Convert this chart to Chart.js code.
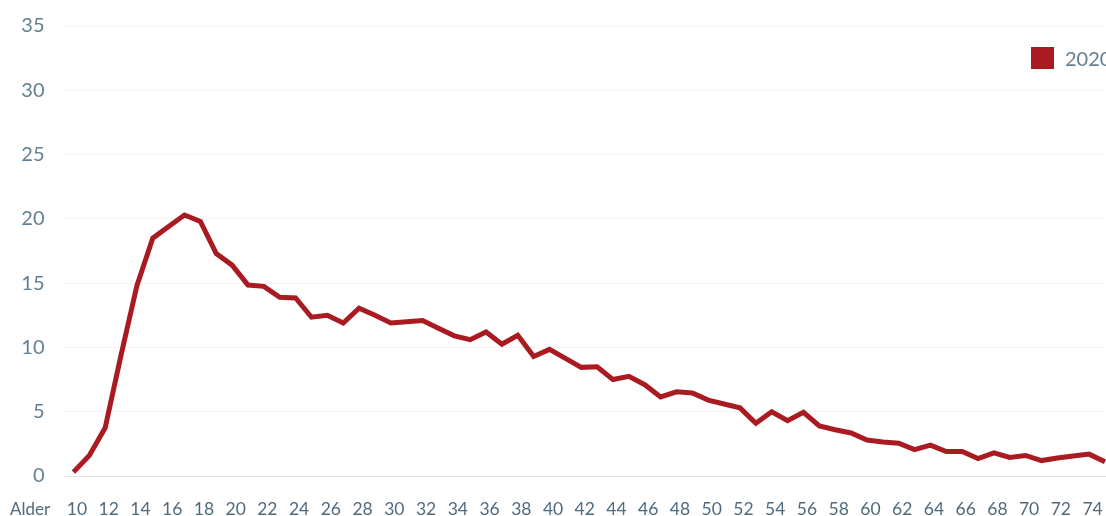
<!DOCTYPE html>
<html>
<head>
<meta charset="utf-8">
<script src="https://cdn.jsdelivr.net/npm/chart.js@4.4.1/dist/chart.umd.min.js"></script>
<style>
  html, body { margin: 0; padding: 0; background: #fff; overflow: hidden; }
  #wrap { position: absolute; left: 0; top: -7px; width: 1128px; height: 523px; }
  .lbl { position: absolute; font-family: Lato, sans-serif; color: #4f6b7e; white-space: nowrap; }
  #alder { left: 10px; top: 498px; font-size: 17px; line-height: 22px; }
  #legend { left: 1031px; top: 47px; font-size: 20px; line-height: 22px; color: #647f91; }
  #legend span.box { display: inline-block; width: 23px; height: 22px; background: #a91b21; vertical-align: top; margin-right: 11px; }
</style>
</head>
<body>
<div id="wrap"><canvas id="chart"></canvas></div>
<div class="lbl" id="alder">Alder</div>
<div class="lbl" id="legend"><span class="box"></span>2020</div>
<script>
const seriesName = '2020';
const ages = [];
for (let a = 10; a <= 75; a++) ages.push(a);

const values = [
  0.3, 1.6, 3.75, 9.4, 14.8, 18.5, 19.4, 20.3, 19.8, 17.3,     // 10-19
  16.4, 14.85, 14.75, 13.9, 13.85, 12.35, 12.5, 11.9, 13.05, 12.5, // 20-29
  11.9, 12.0, 12.1, 11.5, 10.9, 10.6, 11.2, 10.25, 10.95, 9.3,   // 30-39
  9.85, 9.15, 8.45, 8.5, 7.5, 7.75, 7.1, 6.15, 6.55, 6.45,       // 40-49
  5.9, 5.6, 5.3, 4.1, 5.0, 4.3, 4.95, 3.9, 3.6, 3.35,            // 50-59
  2.8, 2.65, 2.55, 2.05, 2.4, 1.9, 1.9, 1.35, 1.8, 1.45,         // 60-69
  1.6, 1.2, 1.4, 1.55, 1.7, 1.1                                  // 70-75
];

const yTicks = [0, 5, 10, 15, 20, 25, 30, 35];

const xColor = '#4f6b7e';
const yColor = '#647f91';

const ctx = document.getElementById('chart').getContext('2d');
const chart = new Chart(ctx, {
  type: 'line',
  data: {
    labels: ages,
    datasets: [{
      label: seriesName,
      data: values,
      borderColor: '#a91b21',
      backgroundColor: '#a91b21',
      borderWidth: 5,
      pointRadius: 0,
      tension: 0,
      fill: false
    }]
  },
  options: {
    responsive: true,
    maintainAspectRatio: false,
    devicePixelRatio: 1,
    animation: false,
    layout: { padding: { top: 16, right: 4, left: 0, bottom: 0 } },
    plugins: {
      legend: { display: false },
      tooltip: { enabled: false }
    },
    scales: {
      x: {
        offset: true,
        grid: { display: false, drawTicks: false },
        border: { display: true, color: '#e2e2e2', width: 1 },
        afterFit: function(scale) {
          scale.height = 40;
        },
        ticks: {
          autoSkip: false,
          maxRotation: 0,
          padding: 23,
          labelOffset: 3.5,
          color: xColor,
          font: { family: 'Lato', size: 17.5 },
          callback: function(value, i) {
            return ages[i] % 2 === 0 ? String(ages[i]) : '';
          }
        }
      },
      y: {
        min: 0,
        max: 35,
        afterBuildTicks: function(scale) {
          scale.ticks = yTicks.map(v => ({ value: v }));
        },
        afterFit: function(scale) {
          scale.width = 65.5;
        },
        border: { display: false, dash: [1, 3] },
        grid: { color: '#d9d9d9', lineWidth: 1, drawTicks: false },
        ticks: {
          padding: 21,
          color: yColor,
          font: { family: 'Lato', size: 20 }
        }
      }
    }
  }
});
</script>
</body>
</html>
